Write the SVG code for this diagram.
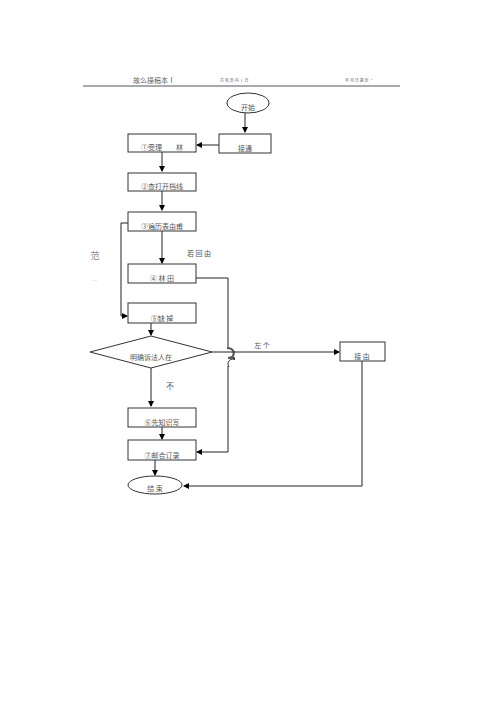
<svg xmlns="http://www.w3.org/2000/svg" width="500" height="707" viewBox="0 0 500 707">
<defs>
<marker id="ah" markerWidth="6" markerHeight="6" refX="5" refY="3" orient="auto" markerUnits="userSpaceOnUse"><path d="M0,0 L6,3 L0,6 z" fill="#000"/></marker>
<marker id="ahs" markerWidth="4" markerHeight="4" refX="3" refY="2" orient="auto" markerUnits="userSpaceOnUse"><path d="M0,0 L4,2 L0,4 z" fill="#333"/></marker>
</defs>
<style>
.b{fill:#fff;stroke:#333;stroke-width:1}
.t{font-family:"Noto Sans CJK SC","Liberation Serif",serif;font-size:7px;fill:#555;text-anchor:middle}
.l{fill:none;stroke:#222;stroke-width:1}
.h{font-family:"Noto Sans CJK SC","Liberation Serif",serif;font-size:6px;fill:#666}
</style>
<rect width="500" height="707" fill="#fff"/>
<g id="header">
<text class="h" x="133" y="83" style="font-size:7px">故么操稿本Ⅰ</text>
<text class="h" x="220" y="82" style="font-size:4px">共 有 页 内 Ⅰ 日</text>
<text class="h" x="345" y="82" style="font-size:4px">年 月 日 第 页 ·</text>
<line x1="83" y1="86" x2="400" y2="86" stroke="#555" stroke-width="1"/>
</g>
<g id="connectors">
<line class="l" x1="245" y1="113" x2="245" y2="132" marker-end="url(#ah)"/>
<line class="l" x1="219" y1="145" x2="197" y2="145" marker-end="url(#ah)"/>
<line class="l" x1="162" y1="152" x2="162" y2="171" marker-end="url(#ah)"/>
<line class="l" x1="162" y1="191" x2="162" y2="210" marker-end="url(#ah)"/>
<line class="l" x1="162" y1="231" x2="162" y2="263" marker-end="url(#ah)"/>
<polyline class="l" points="128,223 121,223 121,316 127,316" marker-end="url(#ah)"/>
<polyline class="l" points="196,278 228,278 228,348"/>
<path d="M227,348 C233,348 235,352 233,356 C232,358 229,358 228,358" fill="none" stroke="#555" stroke-width="2"/>
<path class="l" d="M232,359 C228,360 227,364 229,367" marker-start="url(#ahs)"/>
<polyline class="l" points="228,366 228,452 197,452" marker-end="url(#ah)"/>
<line class="l" x1="151" y1="323" x2="151" y2="335" marker-end="url(#ah)"/>
<line class="l" x1="212" y1="352" x2="339" y2="352" marker-end="url(#ah)"/>
<line class="l" x1="151" y1="368" x2="151" y2="406" marker-end="url(#ah)"/>
<line class="l" x1="162" y1="427" x2="162" y2="439" marker-end="url(#ah)"/>
<line class="l" x1="155" y1="460" x2="155" y2="475" marker-end="url(#ah)"/>
<polyline class="l" points="362,361 362,486 184,486" marker-end="url(#ah)"/>
</g>
<g id="start"><ellipse class="b" cx="248" cy="103" rx="21" ry="10"/><text class="t" x="248" y="110">开始</text></g>
<g id="n0"><rect class="b" x="219" y="134" width="52" height="19"/><text class="t" x="245" y="151">接通</text></g>
<g id="n1"><rect class="b" x="128" y="134" width="68" height="18"/><text class="t" x="162" y="150">①受理　　林</text></g>
<g id="n2"><rect class="b" x="128" y="173" width="68" height="18"/><text class="t" x="162" y="189">②查打开档线</text></g>
<g id="n3"><rect class="b" x="128" y="212" width="68" height="19"/><text class="t" x="162" y="229">③遍历表由甫</text></g>
<g id="lbl1"><text class="t" x="199" y="256">若 回 由</text></g>
<g id="lbl2"><text class="t" x="95" y="259" style="font-size:9px;fill:#888">范</text><text class="t" x="95" y="283" style="font-size:4px;fill:#888">…</text></g>
<g id="n4"><rect class="b" x="128" y="264" width="68" height="19"/><text class="t" x="162" y="281">④ 林 田</text></g>
<g id="n5"><rect class="b" x="128" y="303" width="68" height="20"/><text class="t" x="162" y="321">⑤缺 掉</text></g>
<g id="dec"><polygon class="b" points="151,336 212,352 151,368 90,352"/><text class="t" x="151" y="360">明确诉法人在</text></g>
<g id="lbl3"><text class="t" x="170" y="389" style="font-size:8px">不</text></g>
<g id="lbl4"><text class="t" x="262" y="348">左 个</text></g>
<g id="n8"><rect class="b" x="340" y="342" width="45" height="19"/><text class="t" x="362" y="359">接 由</text></g>
<g id="n6"><rect class="b" x="128" y="408" width="68" height="19"/><text class="t" x="162" y="425">⑥先知识写</text></g>
<g id="n7"><rect class="b" x="128" y="440" width="68" height="20"/><text class="t" x="162" y="458">⑦邮合订录</text></g>
<g id="end"><ellipse class="b" cx="155" cy="485" rx="27" ry="9"/><text class="t" x="155" y="491">结 束</text></g>
</svg>
